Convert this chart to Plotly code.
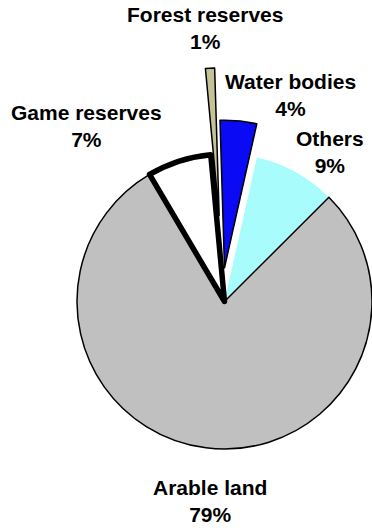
import math
import plotly.graph_objects as go

# Land use shares
labels = ["Water bodies", "Others", "Arable land", "Game reserves", "Forest reserves"]
values = [4, 9, 79, 7, 1]

# Styling per slice
colors = ["#0A0AF5", "#A8FCFC", "#C0C0C0", "#FFFFFF", "#C6C297"]
pulls = [0.23, 0.0, 0.0, 0.0, 0.585]
edge_widths = [1.5, 0.0, 1.5, 5.5, 1.5]

W, H = 372, 528
CX, CY, R = 224.5, 301.5, 147.5   # pie centre and radius in pixels
ROTATION = -1.75                  # start angle, degrees clockwise from 12 o'clock

# label centres in pixels
label_pos = {
    "Forest reserves": (205, 28.5),
    "Water bodies": (290, 95),
    "Others": (330, 152),
    "Game reserves": (86, 126),
    "Arable land": (210, 501),
}

total = sum(values)
pcts = [round(v / total * 100) for v in values]

# bisector angle of each slice (clockwise from top)
bisect = []
acc = ROTATION
for v in values:
    span = v / total * 360
    bisect.append(acc + span / 2)
    acc += span


def domain_for(cx, cy, r):
    x0, x1 = (cx - r) / W, (cx + r) / W
    if x1 > 1:
        x0, x1 = x0 - (x1 - 1), 1.0
    if x0 < 0:
        x0, x1 = 0.0, x1 - x0
    y0, y1 = 1 - (cy + r) / H, 1 - (cy - r) / H
    return dict(x=[x0, x1], y=[y0, y1])


def pie_trace(show, cx, cy):
    cols = [c if i in show else "rgba(0,0,0,0)" for i, c in enumerate(colors)]
    lws = [w if i in show else 0 for i, w in enumerate(edge_widths)]
    return go.Pie(
        labels=labels,
        values=values,
        sort=False,
        direction="clockwise",
        rotation=ROTATION,
        textinfo="none",
        hoverinfo="skip",
        showlegend=False,
        marker=dict(colors=cols, line=dict(color="black", width=lws)),
        domain=domain_for(cx, cy, R),
    )


fig = go.Figure()
# slices sitting in place
fig.add_trace(pie_trace({i for i, p in enumerate(pulls) if p == 0}, CX, CY))
# exploded slices, offset along their bisectors
for i, p in enumerate(pulls):
    if p > 0:
        a = math.radians(bisect[i])
        d = p * R
        fig.add_trace(pie_trace({i}, CX + d * math.sin(a), CY - d * math.cos(a)))

for lab, pct in zip(labels, pcts):
    px, py = label_pos[lab]
    fig.add_annotation(
        x=px / W, y=1 - py / H, xref="paper", yref="paper",
        text=f"<b>{lab}<br>{pct}%</b>",
        showarrow=False, xanchor="center", yanchor="middle", align="center",
        font=dict(family="Liberation Sans, Arial, sans-serif", size=21, color="black"),
    )

fig.update_layout(
    width=W, height=H,
    margin=dict(l=0, r=0, t=0, b=0),
    paper_bgcolor="white", plot_bgcolor="white",
)

fig.write_html("out.html")
